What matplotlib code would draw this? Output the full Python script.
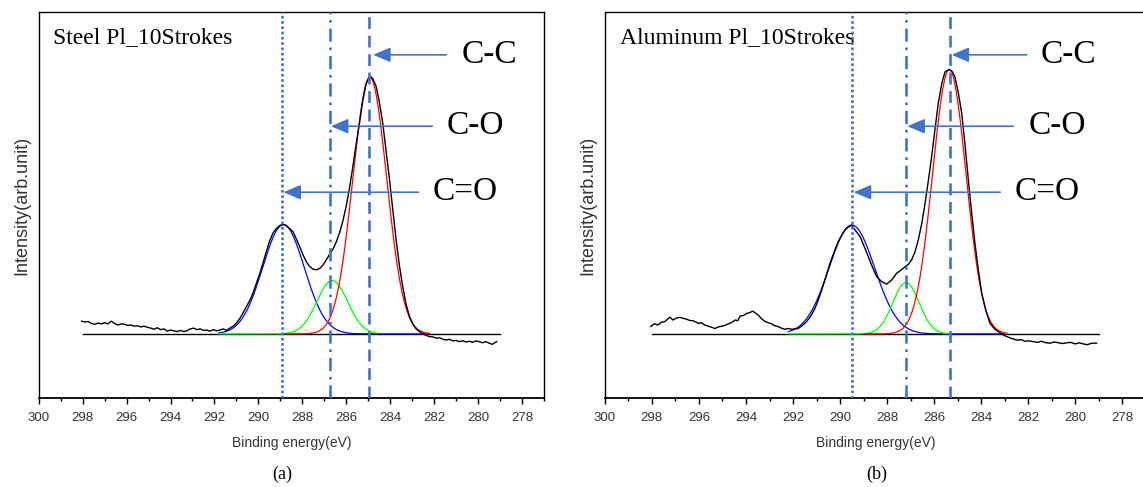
import numpy as np
import matplotlib.pyplot as plt
from matplotlib.ticker import MultipleLocator

# C1s spectra (binding energy in eV, intensity in arb. units)
steel_be = [298.05, 297.90, 297.75, 297.60, 297.45, 297.30, 297.15, 297.00, 296.85, 296.70,
            296.55, 296.40, 296.25, 296.10, 295.95, 295.80, 295.65, 295.50, 295.35, 295.20,
            295.05, 294.90, 294.75, 294.60, 294.45, 294.30, 294.15, 294.00, 293.85, 293.70,
            293.55, 293.40, 293.25, 293.10, 292.95, 292.80, 292.65, 292.50, 292.35, 292.20,
            292.05, 291.90, 291.75, 291.60, 291.45, 291.30, 291.15, 291.00, 290.85, 290.70,
            290.55, 290.40, 290.25, 290.10, 289.95, 289.80, 289.64, 289.50, 289.34, 289.20,
            289.05, 288.88, 288.75, 288.60, 288.43, 288.28, 288.12, 287.97, 287.82, 287.67,
            287.52, 287.36, 287.20, 287.05, 286.91, 286.75, 286.60, 286.45, 286.30, 286.15,
            286.00, 285.85, 285.70, 285.55, 285.40, 285.25, 285.10, 284.94, 284.80, 284.64,
            284.50, 284.34, 284.20, 284.03, 283.88, 283.73, 283.58, 283.43, 283.28, 283.12,
            282.97, 282.82, 282.67, 282.52, 282.37, 282.21, 282.05, 281.90, 281.75, 281.60,
            281.45, 281.30, 281.15, 281.00, 280.85, 280.70, 280.55, 280.40, 280.25, 280.10,
            279.95, 279.80, 279.65, 279.50, 279.35, 279.25, 279.15]
steel_int = [19.9, 19.7, 19.8, 19.3, 19.1, 19.4, 19.2, 19.5, 19.2, 19.9,
             19.3, 18.9, 19.2, 19.1, 18.8, 18.9, 18.6, 18.7, 18.4, 18.6,
             18.3, 18.1, 17.8, 18.2, 17.7, 17.9, 17.3, 17.6, 17.4, 17.2,
             17.5, 17.2, 17.4, 17.9, 18.1, 17.7, 17.9, 17.5, 17.6, 17.3,
             17.7, 17.4, 17.6, 17.9, 17.5, 18.1, 18.6, 19.4, 20.6, 22.0,
             23.6, 25.2, 27.1, 29.6, 32.0, 34.8, 37.9, 40.5, 42.7, 43.8,
             44.6, 45.0, 44.7, 44.0, 43.1, 41.3, 39.2, 37.1, 35.3, 34.1,
             33.4, 33.2, 33.6, 34.5, 35.8, 37.3, 38.6, 40.5, 42.9, 46.0,
             49.8, 54.5, 60.0, 65.8, 71.2, 77.0, 81.3, 83.4, 82.8, 80.7,
             76.8, 71.2, 64.5, 56.5, 48.6, 40.9, 34.2, 28.8, 24.3, 21.1,
             19.1, 17.9, 17.2, 16.7, 16.2, 15.9, 15.8, 15.5, 15.6, 15.2,
             15.0, 15.2, 14.8, 14.9, 14.6, 14.8, 14.5, 14.7, 14.4, 14.8,
             14.6, 14.3, 14.6, 14.2, 13.9, 14.3, 14.6]

alu_be = [298.05, 297.95, 297.87, 297.75, 297.60, 297.44, 297.30, 297.23, 297.10, 296.95,
          296.80, 296.65, 296.52, 296.40, 296.25, 296.10, 296.03, 295.90, 295.75, 295.60,
          295.45, 295.32, 295.18, 295.03, 294.90, 294.75, 294.60, 294.45, 294.35, 294.25,
          294.10, 293.97, 293.85, 293.71, 293.60, 293.48, 293.35, 293.19, 293.05, 292.91,
          292.78, 292.63, 292.50, 292.35, 292.20, 292.06, 291.92, 291.78, 291.60, 291.42,
          291.25, 291.07, 290.92, 290.78, 290.60, 290.43, 290.25, 290.08, 289.93, 289.79,
          289.65, 289.51, 289.35, 289.15, 288.98, 288.80, 288.62, 288.44, 288.23, 288.02,
          287.80, 287.60, 287.42, 287.24, 287.10, 286.96, 286.82, 286.68, 286.53, 286.39,
          286.25, 286.11, 285.97, 285.83, 285.68, 285.54, 285.36, 285.24, 285.12, 284.98,
          284.83, 284.69, 284.55, 284.41, 284.27, 284.12, 283.98, 283.80, 283.63, 283.42,
          283.20, 283.06, 282.92, 282.70, 282.49, 282.30, 282.15, 281.98, 281.79, 281.60,
          281.45, 281.25, 281.08, 280.90, 280.72, 280.55, 280.37, 280.20, 280.00, 279.85,
          279.66, 279.50, 279.30, 279.10]
alu_int = [18.5, 19.0, 19.2, 18.9, 19.6, 19.8, 20.6, 20.9, 20.2, 20.7,
           20.9, 20.6, 20.4, 20.1, 20.0, 19.6, 19.3, 19.5, 18.9, 18.6,
           18.3, 18.0, 18.4, 18.6, 18.8, 19.2, 19.6, 20.2, 20.0, 21.2,
           21.4, 21.9, 22.1, 22.5, 22.0, 21.5, 20.6, 19.8, 19.5, 19.2,
           18.7, 18.5, 18.1, 17.8, 18.0, 17.8, 17.9, 18.0, 18.8, 19.8,
           21.2, 23.2, 25.5, 28.0, 31.5, 34.9, 37.9, 40.5, 42.2, 43.5,
           44.3, 44.8, 43.4, 41.8, 39.3, 36.6, 33.8, 31.4, 30.1, 29.5,
           30.6, 32.3, 33.1, 34.0, 34.6, 35.8, 37.8, 40.9, 45.2, 50.4,
           56.3, 62.5, 69.5, 76.3, 81.5, 84.5, 85.1, 84.6, 83.2, 79.2,
           73.7, 65.5, 56.5, 48.0, 40.1, 33.0, 27.1, 22.5, 19.3, 17.8,
           16.9, 16.3, 15.9, 15.4, 15.0, 15.1, 14.7, 14.8, 14.6, 14.4,
           14.7, 14.3, 14.2, 14.5, 14.3, 14.1, 14.3, 14.4, 14.0, 14.3,
           14.0, 13.8, 14.2, 14.2]

# fitted components: C=O, C-O, C-C (centre eV, height above background, sigma eV)
steel_center = [288.86, 286.64, 284.93]
steel_height = [28.3, 13.8, 66.5]
steel_sigma = [0.95, 0.70, 0.77]
alu_center = [289.50, 287.20, 285.36]
alu_height = [28.2, 13.3, 68.5]
alu_sigma = [0.97, 0.56, 0.71]

background = 16.6
bg_range = (298.0, 279.0)
# energy span drawn for each component (C=O, C-O, C-C)
steel_span = [(291.8, 282.3), (291.8, 284.6), (288.9, 282.2)]
alu_span = [(292.2, 283.0), (292.2, 285.3), (289.0, 282.9)]

# vertical guides: C=O, C-O, C-C positions
steel_lines = [288.92, 286.74, 284.96]
alu_lines = [289.50, 287.20, 285.35]

bond_labels = ["C=O", "C-O", "C-C"]
arrow_y = [53.3, 70.4, 88.9]
steel_arrow_tail = [282.71, 282.08, 281.45]
steel_arrow_tip = [288.86, 286.70, 284.78]
steel_text_x = [282.06, 281.45, 280.77]
alu_arrow_tail = [283.20, 282.64, 282.07]
alu_arrow_tip = [289.42, 287.14, 285.26]
alu_text_x = [282.60, 282.00, 281.47]

comp_colors = ["#0000ff", "#00ff00", "#ff0000"]
comp_z = [2, 3, 4]
guide_color = "#4472c4"
guide_styles = [(0, (1, 1)), (0, (5, 2.2, 1, 2.2)), (0, (4.5, 2.5))]

serif = "Liberation Serif"
sans = "Liberation Sans"

fig = plt.figure(figsize=(11.43, 4.87), dpi=100)
ax_a = fig.add_axes([0.03386, 0.1828, 0.4421, 0.7926])
ax_b = fig.add_axes([0.52913, 0.1828, 0.47350, 0.7926])


def draw_panel(ax, be, inten, centers, heights, sigmas, spans, lines,
               tails, tips, text_x, name):
    ax.plot(bg_range, [background, background], color="black", lw=1.0, zorder=1)
    for c, h, s, (e0, e1), col, z in zip(centers, heights, sigmas, spans,
                                         comp_colors, comp_z):
        e = np.linspace(e0, e1, 300)
        ax.plot(e, background + h * np.exp(-(e - c) ** 2 / (2 * s ** 2)),
                color=col, lw=0.9, zorder=z)
    ax.plot(be, inten, color="black", lw=1.0, zorder=5)

    for x, ls in zip(lines, guide_styles):
        ax.axvline(x, color=guide_color, lw=1.9, ls=ls, zorder=6)

    for lab, y, t0, t1, tx in zip(bond_labels, arrow_y, tails, tips, text_x):
        ax.annotate("", xy=(t1, y), xytext=(t0, y),
                    arrowprops=dict(arrowstyle="-|>,head_length=0.75,head_width=0.32",
                                    color=guide_color, lw=1.2, mutation_scale=14,
                                    shrinkA=0, shrinkB=0), zorder=7)
        ax.text(tx, y, lab, family=serif, fontsize=24, va="center", ha="left",
                color="black", zorder=7)

    ax.text(0.028, 0.935, name, transform=ax.transAxes, family=serif,
            fontsize=17, va="center", ha="left")

    ax.set_xlim(300, 277)
    ax.set_ylim(0, 100)
    ax.xaxis.set_major_locator(MultipleLocator(2))
    ax.xaxis.set_minor_locator(MultipleLocator(1))
    ax.tick_params(axis="x", which="major", direction="out", length=4, width=1,
                   labelsize=9.5, pad=6, labelcolor="#333333")
    ax.tick_params(axis="x", which="minor", direction="out", length=2.5, width=1)
    ax.set_yticks([])
    for lab in ax.get_xticklabels():
        lab.set_family(sans)
    for sp in ax.spines.values():
        sp.set_linewidth(1.0)
    ax.spines["bottom"].set_linewidth(1.3)
    ax.set_xlabel("Binding energy(eV)", family=sans, fontsize=10, color="#333333",
                  labelpad=9)
    ax.set_ylabel("Intensity(arb.unit)", family=sans, fontsize=13, color="#333333",
                  labelpad=6)


draw_panel(ax_a, steel_be, steel_int, steel_center, steel_height, steel_sigma,
           steel_span, steel_lines, steel_arrow_tail, steel_arrow_tip,
           steel_text_x, "Steel Pl_10Strokes")
draw_panel(ax_b, alu_be, alu_int, alu_center, alu_height, alu_sigma,
           alu_span, alu_lines, alu_arrow_tail, alu_arrow_tip,
           alu_text_x, "Aluminum Pl_10Strokes")

fig.text(282 / 1143, 1 - 474 / 487, "(a)", family=serif, fontsize=13,
         ha="center", va="center")
fig.text(877 / 1143, 1 - 474 / 487, "(b)", family=serif, fontsize=13,
         ha="center", va="center")

fig.savefig("out.png", dpi=100)
